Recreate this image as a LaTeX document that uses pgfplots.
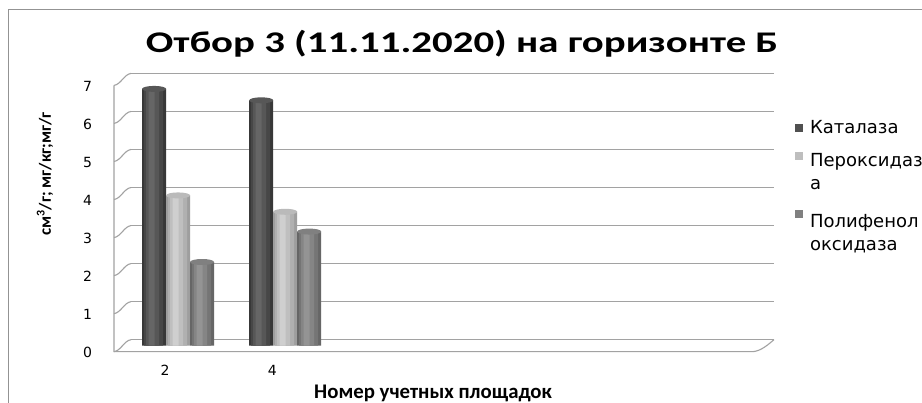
\documentclass[border=0pt]{standalone}
\usepackage{pgfplots}
\usepackage{pgfplotstable}
\pgfplotsset{compat=1.18}
\usepackage{fontspec}
\setmainfont{DejaVu Sans}
\newfontfamily\calibri{Carlito}
\newfontfamily\calibriwide[FakeStretch=1.36]{Carlito}

% enzyme activity per plot number
\pgfplotstableread{
x  kat   per   pol
0  6.75  3.95  2.20
1  6.45  3.52  3.00
}\enzymes

\definecolor{gridc}{HTML}{A2A2A2}
\definecolor{katK}{HTML}{505050}
\definecolor{perK}{HTML}{BEBEBE}
\definecolor{polK}{HTML}{808080}

% elliptic cap on top of each cylinder
\pgfdeclareplotmark{captop}{%
  \pgfpathellipse{\pgfpointorigin}{\pgfpoint{12pt}{0pt}}{\pgfpoint{0pt}{3pt}}%
  \pgfusepathqfill}

\newcommand\legsq[1]{\pgfpathrectangle{\pgfpoint{0pt}{-5pt}}{\pgfpoint{8pt}{8pt}}\pgfsetfillcolor{#1}\pgfusepath{fill}}
\newcommand\legtxt[2][\strut]{\hspace*{5pt}#1\strut #2}

% one series of cylinders: column, shift (pt), four colours outside -> inside, cap colour
\newcommand\cylinders[7]{%
  \addplot[ybar, bar width=24pt, bar shift={(#2)*1pt}, fill=#3, draw=none, forget plot] table[x=x, y=#1]{\enzymes};
  \addplot[ybar, bar width=19pt, bar shift={(#2-0.5)*1pt}, fill=#4, draw=none, forget plot] table[x=x, y=#1]{\enzymes};
  \addplot[ybar, bar width=13pt, bar shift={(#2-1.5)*1pt}, fill=#5, draw=none, forget plot] table[x=x, y=#1]{\enzymes};
  \addplot[ybar, bar width=6pt, bar shift={(#2-2.5)*1pt}, fill=#6, draw=none, forget plot,
    mark=captop, mark options={xshift=#2pt, fill=#7}] table[x=x, y=#1]{\enzymes};
}

\begin{document}
\begin{tikzpicture}
\path[use as bounding box, fill=white] (0pt,0pt) rectangle (922pt,403pt);
\draw[gray!85, line width=1pt] (8pt,0pt) -- (8pt,393pt) -- (922pt,393pt);
\begin{axis}[
  at={(122.5pt,57.3pt)}, anchor=south west,
  scale only axis, width=643pt, height=266.3pt,
  xmin=-0.5, xmax=5.5, ymin=0, ymax=7,
  clip=false,
  axis line style={draw=none},
  major tick length=0pt,
  xtick={0,...,5}, xticklabels={2,4,,,,},
  ytick={0,...,7},
  /pgf/number format/assume math mode=true,
  ticklabel style={font=\fontsize{14}{16}\selectfont},
  xticklabel style={anchor=base, xshift=-11pt, yshift=-30pt},
  yticklabel style={anchor=center, xshift=-35pt, yshift=-7pt},
  title={\calibriwide\bfseries Отбор 3 (11.11.2020) на горизонте Б},
  title style={at={(axis description cs:0.528,1.0775)}, anchor=base, font=\fontsize{30}{36}\selectfont},
  xlabel={\calibri\bfseries Номер учетных площадок},
  xlabel style={at={(axis description cs:0.483,-0.2)}, anchor=base, font=\fontsize{20.8}{24}\selectfont},
  ylabel={\calibri\bfseries см\textsuperscript{3}/г; мг/кг;мг/г},
  ylabel style={at={(axis description cs:-0.1205,0.645)}, anchor=center, font=\fontsize{17}{20}\selectfont},
  legend cell align=left,
  legend style={at={(axis description cs:1.041,0.87)}, anchor=north west,
    draw=none, fill=none, font=\fontsize{18}{21.6}\selectfont, row sep=2.5pt},
]
% back wall, left wall and floor of the box
\pgfplotsinvokeforeach{0,...,7}{
  \draw[gridc, line width=1.3pt] ([shift={(8.5pt,6pt)}]axis cs:-0.5,#1) -- ([shift={(8.5pt,6pt)}]axis cs:5.5,#1);
  \draw[gridc, line width=1.1pt] ([shift={(-8.5pt,-6pt)}]axis cs:-0.5,#1) .. controls +(7pt,1pt) and +(-7pt,-1pt) .. ([shift={(8.5pt,6pt)}]axis cs:-0.5,#1);
}
\draw[gridc, line width=1.1pt] ([shift={(-8.5pt,-6pt)}]axis cs:-0.5,7) -- ([shift={(-8.5pt,-6pt)}]axis cs:-0.5,0)
  -- ([shift={(-12.5pt,-6pt)}]axis cs:5.5,0) .. controls +(9pt,1pt) and +(-5pt,-4pt) .. ([shift={(8.5pt,6pt)}]axis cs:5.5,0);

\cylinders{kat}{-22}{black!78}{black!72}{black!66}{black!60}{black!66}
\cylinders{per}{2}{black!38}{black!31}{black!25}{black!19}{black!27}
\cylinders{pol}{26}{black!60}{black!54}{black!48}{black!42}{black!50}

\addlegendimage{legend image code/.code={\legsq{katK}}}
\addlegendimage{legend image code/.code={\legsq{perK}}}
\addlegendimage{empty legend}
\addlegendimage{legend image code/.code={\legsq{polK}}}
\addlegendimage{empty legend}
\legend{\legtxt{Каталаза}, \legtxt[\rule{0pt}{25pt}]{Пероксидаз}, \legtxt{а}, \legtxt[\rule{0pt}{30pt}]{Полифенол}, \legtxt{оксидаза}}
\end{axis}
\end{tikzpicture}
\end{document}
